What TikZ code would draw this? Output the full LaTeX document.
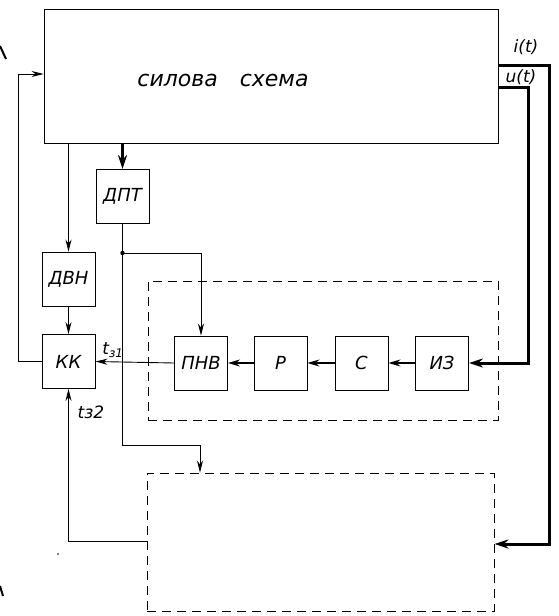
\documentclass[tikz,border=0pt]{standalone}
\usepackage{fontspec}
\setmainfont{DejaVu Sans}
\usetikzlibrary{arrows.meta}
\begin{document}
\begin{tikzpicture}[x=1pt,y=-1pt,
  blk/.style={draw, line width=0.9pt, minimum width=53pt, minimum height=54pt, inner sep=0pt,
              font=\fontsize{18}{18}\selectfont\itshape},
  ln/.style={line width=0.9pt},
  thk/.style={line width=3pt},
  arr/.style={-{Stealth[length=12pt,width=6pt]}},
  marr/.style={line width=1.4pt,-{Stealth[length=12pt,width=7pt]}},
  tarr/.style={-{Stealth[length=14pt,width=9pt]}},
  dsh/.style={draw, line width=0.9pt, dash pattern=on 9pt off 6pt, inner sep=0pt},
  lab/.style={font=\fontsize{17}{17}\selectfont\itshape, inner sep=1pt}]
\useasboundingbox (0,0) rectangle (558,616);

% main block
\node[draw, line width=0.9pt, minimum width=454pt, minimum height=134pt, inner sep=0pt] (main) at (271,76) {};
\node[font=\fontsize{22}{22}\selectfont\itshape] (mainlbl) at (223,80) {силова\quad схема};

% blocks
\node[blk] (dpt) at (122.5,196.5) {ДПТ};
\node[blk] (dvn) at (68.5,279) {ДВН};
\node[blk] (kk)  at (68.5,361.5) {КК};
\node[blk] (pnv) at (201,363) {ПНВ};
\node[blk] (r)   at (280.5,363) {Р};
\node[blk] (s)   at (361.5,363) {С};
\node[blk] (iz)  at (442,363) {ИЗ};

% dashed boxes
\node[dsh, minimum width=350pt, minimum height=139pt] (dz1) at (323,350.5) {};
\node[dsh, minimum width=347pt, minimum height=138pt] (dz2) at (320.5,542) {};

% coordinates
\coordinate (fb) at (18,74);
\coordinate (j) at (122.5,253);
\coordinate (jb) at (122.5,445);
\coordinate (jc) at (200,445);
\coordinate (u1) at (528,87);
\coordinate (i1) at (549,65);
\coordinate (i2) at (549,544);
\coordinate (b1) at (68.5,541);

% connectors
\draw[ln,arr] (kk.west) -| (fb) -- (fb -| main.west);
\draw[ln,arr] (main.south -| dvn) -- (dvn.north);
\draw[ln,arr] (dvn.south) -- (kk.north);
\draw[line width=2.5pt,tarr] (main.south -| dpt) -- (dpt.north);
\draw[ln] (dpt.south) -- (j);
\fill (j) circle (2.2pt);
\draw[ln,arr] (j) -| (pnv.north);
\draw[ln,arr] (j) -- (jb) -- (jc) -- (jc |- dz2.north);
\draw[ln,arr] (pnv.west) -- (kk.east);
\draw[marr] (r.west) -- (pnv.east);
\draw[marr] (s.west) -- (r.east);
\draw[marr] (iz.west) -- (s.east);
\draw[thk,tarr] (main.east |- u1) -- (u1) |- (iz.east);
\draw[thk,tarr] (main.east |- i1) -- (i1) -- (i2) -- (i2 -| dz2.east);
\draw[ln,arr] (b1 -| dz2.west) -- (b1) -- (kk.south);

% labels
\node[lab] (li) at (526,47) {i(t)};
\node[lab] (lu) at (521,77) {u(t)};
\node[lab] (lt1) at (113,350) {t\textsubscript{з1}};
\node[lab] (lt2) at (91,412) {tз2};

% scan marks
\draw[line width=2pt] (0,46) -- (6,59);
\draw[line width=2pt] (0,586) -- (3,596);
\fill (58,554) circle (0.8pt);
\end{tikzpicture}
\end{document}
